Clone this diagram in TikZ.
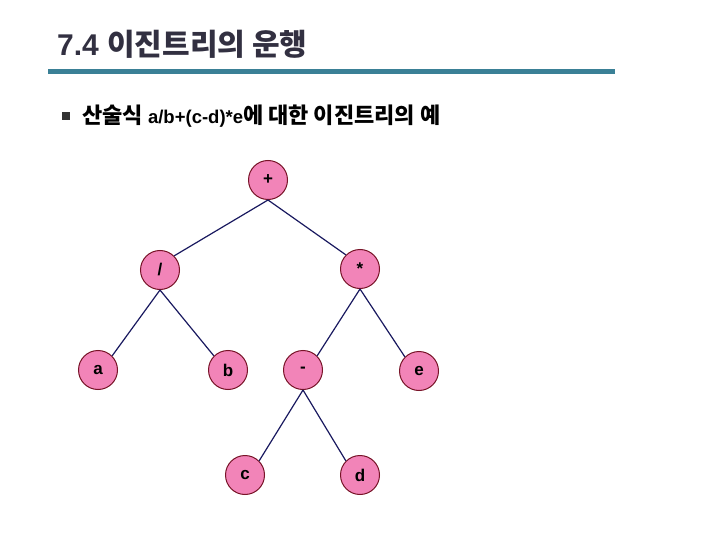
\documentclass[tikz,border=0pt]{standalone}
\usepackage{fontspec}
\setmainfont{Liberation Sans}
\newfontfamily\kr{Noto Sans CJK KR}
\usepackage{tikz}
\usetikzlibrary{positioning}
\definecolor{nodepink}{RGB}{242,132,184}
\definecolor{nodeedge}{RGB}{120,20,40}
\definecolor{treeline}{RGB}{25,25,95}
\definecolor{rulecol}{RGB}{58,128,150}
\definecolor{titlegray}{RGB}{50,48,65}
\newcommand{\krbig}[1]{{\kr\fontsize{22}{22}\selectfont #1}}
\tikzset{
  vtx/.style={circle, draw=nodeedge, line width=1pt, fill=nodepink,
    minimum size=39pt, inner sep=0pt, font=\fontsize{17}{17}\selectfont\bfseries},
  branch/.style={draw=treeline, line width=1.2pt}
}

\begin{document}
\begin{tikzpicture}[x=1pt, y=-1pt]
\useasboundingbox (0,0) rectangle (720,540);

% heading
\node[anchor=base west, text=titlegray, inner sep=0pt,
  font=\fontsize{30}{30}\selectfont\bfseries] (title) at (57,56)
  {7.4 {\kr 이진트리의 운행}};
\fill[rulecol] (48,69) rectangle (615,74);

\fill[black!80] (62,112) rectangle (70,120);
\node[anchor=base west, inner sep=0pt, font=\fontsize{18.5}{19}\selectfont\bfseries]
  (expr) at (82,124) {\krbig{산술식} a/b+(c-d)*e\krbig{에 대한 이진트리의 예}};

% tree
\node[vtx] (plus) at (268,180) {+};

\node[vtx] (slash) at (160,270) {/};
\node[vtx] (star) at (360,269) {*};

\node[vtx] (a) at (98,370) {a};
\node[vtx] (b) at (228,370) {b};
\node[vtx] (minus) at (303,370) {-};
\node[vtx] (e) at (419,371) {e};

\node[vtx] (c) at (245,475) {c};
\node[vtx] (d) at (360,475) {d};

\path[branch] (plus.south) -- (slash.north east)
              (plus.south) -- (star.north west)
              (slash.south) -- (a.north east)
              (slash.south) -- (b.north west)
              (star.south) -- (minus.north east)
              (star.south) -- (e.north west)
              (minus.south) -- (c.north east)
              (minus.south) -- (d.north west);

\end{tikzpicture}
\end{document}
